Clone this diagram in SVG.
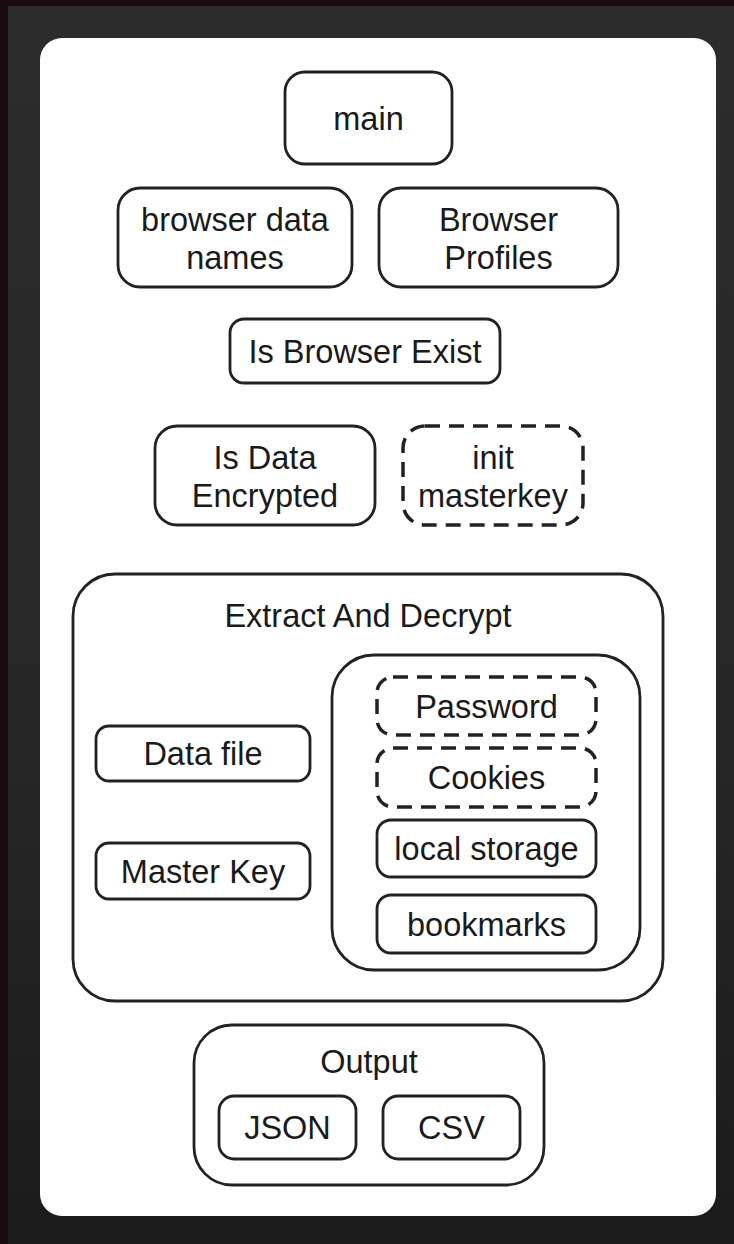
<svg xmlns="http://www.w3.org/2000/svg" width="734" height="1244" viewBox="0 0 734 1244">
  <defs>
    <linearGradient id="panel" x1="0" y1="0" x2="0" y2="1">
      <stop offset="0" stop-color="#2c2c2c"/>
      <stop offset="0.6" stop-color="#262626"/>
      <stop offset="1" stop-color="#1b1b1b"/>
    </linearGradient>
    <style>
      .box { fill: #ffffff; stroke: #222222; stroke-width: 2.8; }
      .dash { fill: #ffffff; stroke: #222222; stroke-width: 3.5; stroke-dasharray: 15 9; }
      .t { font-family: "Liberation Sans", Arial, Helvetica, sans-serif; font-size: 32.5px; fill: #1a1a1a; text-anchor: middle; }
    </style>
  </defs>

  <!-- backdrop -->
  <rect x="0" y="0" width="734" height="1244" fill="#1a0b12"/>
  <rect x="8" y="6" width="726" height="1238" fill="url(#panel)"/>
  <rect x="40" y="38" width="676" height="1178" rx="22" ry="22" fill="#ffffff"/>

  <g id="connectors"></g>

  <g id="main">
    <rect class="box" x="285" y="72" width="167" height="92" rx="20"/>
    <text class="t" x="368.5" y="129.5">main</text>
  </g>

  <g id="browser-data-names">
    <rect class="box" x="118" y="188" width="234" height="99" rx="22"/>
    <text class="t" x="235" y="230.5">browser data</text>
    <text class="t" x="235" y="268.5">names</text>
  </g>

  <g id="browser-profiles">
    <rect class="box" x="379" y="188" width="239" height="99" rx="22"/>
    <text class="t" x="498.5" y="230.5">Browser</text>
    <text class="t" x="498.5" y="268.5">Profiles</text>
  </g>

  <g id="is-browser-exist">
    <rect class="box" x="230" y="319" width="270" height="64" rx="14"/>
    <text class="t" x="365" y="363">Is Browser Exist</text>
  </g>

  <g id="is-data-encrypted">
    <rect class="box" x="155" y="426" width="220" height="99" rx="22"/>
    <text class="t" x="265" y="468.5">Is Data</text>
    <text class="t" x="265" y="506.5">Encrypted</text>
  </g>

  <g id="init-masterkey">
    <rect class="dash" x="403" y="426" width="180" height="99" rx="22"/>
    <text class="t" x="493" y="468.5">init</text>
    <text class="t" x="493" y="506.5">masterkey</text>
  </g>

  <g id="extract-and-decrypt">
    <rect class="box" x="73" y="574" width="590" height="427" rx="42"/>
    <text class="t" x="368" y="627">Extract And Decrypt</text>

    <g id="data-file">
      <rect class="box" x="96" y="726" width="214" height="55" rx="13"/>
      <text class="t" x="203" y="765">Data file</text>
    </g>

    <g id="master-key">
      <rect class="box" x="96" y="843" width="214" height="56" rx="13"/>
      <text class="t" x="203" y="882.5">Master Key</text>
    </g>

    <g id="data-types">
      <rect class="box" x="332" y="655" width="308" height="315" rx="42"/>

      <g id="password">
        <rect class="dash" x="377" y="677" width="219" height="58" rx="16"/>
        <text class="t" x="486.5" y="717.5">Password</text>
      </g>
      <g id="cookies">
        <rect class="dash" x="377" y="748" width="219" height="59" rx="16"/>
        <text class="t" x="486.5" y="789">Cookies</text>
      </g>
      <g id="local-storage">
        <rect class="box" x="377" y="820" width="219" height="57" rx="14"/>
        <text class="t" x="486.5" y="860">local storage</text>
      </g>
      <g id="bookmarks">
        <rect class="box" x="377" y="895" width="219" height="58" rx="14"/>
        <text class="t" x="486.5" y="935.5">bookmarks</text>
      </g>
    </g>
  </g>

  <g id="output">
    <rect class="box" x="194" y="1025" width="350" height="160" rx="38"/>
    <text class="t" x="369" y="1073">Output</text>

    <g id="json">
      <rect class="box" x="219" y="1096" width="137" height="63" rx="15"/>
      <text class="t" x="287.5" y="1139">JSON</text>
    </g>
    <g id="csv">
      <rect class="box" x="383" y="1096" width="137" height="63" rx="15"/>
      <text class="t" x="451.5" y="1139">CSV</text>
    </g>
  </g>
</svg>
